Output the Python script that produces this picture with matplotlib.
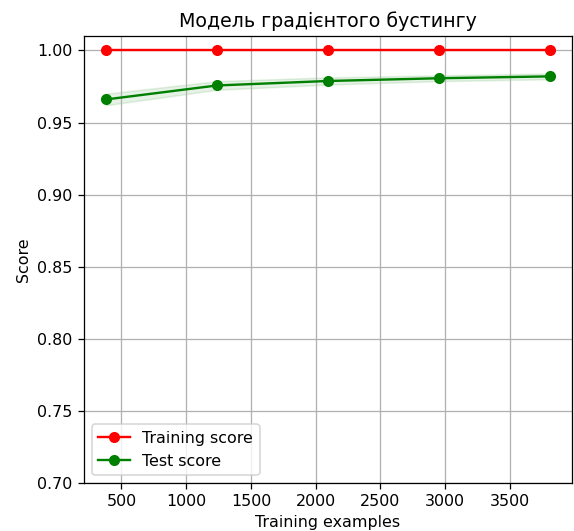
import numpy as np
import matplotlib
matplotlib.use("Agg")
import matplotlib.pyplot as plt

train_sizes = np.array([381, 1238, 2095, 2952, 3810])
train_mean = np.array([1.0, 1.0, 1.0, 1.0, 1.0])
train_std = np.array([0.0, 0.0, 0.0, 0.0, 0.0])
test_mean = np.array([0.966, 0.9757, 0.9788, 0.9807, 0.982])
test_std = np.array([0.004, 0.003, 0.0025, 0.002, 0.002])

DPI = 114
fig = plt.figure(figsize=(574 / DPI, 531 / DPI), dpi=DPI)
ax = fig.add_axes([0.146, 0.0904, 0.851, 0.8418])

ax.fill_between(train_sizes, train_mean - train_std, train_mean + train_std,
                alpha=0.1, color="r")
ax.fill_between(train_sizes, test_mean - test_std, test_mean + test_std,
                alpha=0.1, color="g")
ax.plot(train_sizes, train_mean, 'o-', color="r", label="Training score")
ax.plot(train_sizes, test_mean, 'o-', color="g", label="Test score")

ax.set_title("Модель градієнтого бустингу")
ax.set_xlabel("Training examples")
ax.set_ylabel("Score")
ax.set_ylim(0.7, 1.01)
ax.grid(True)
ax.legend(loc="best")

fig.savefig("out.png", dpi=DPI)
